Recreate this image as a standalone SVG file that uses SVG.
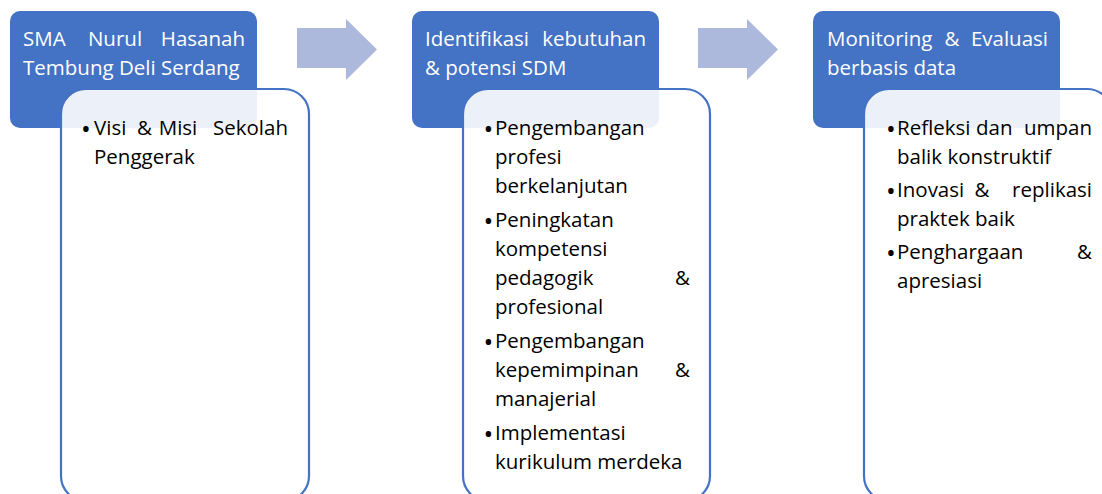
<svg xmlns="http://www.w3.org/2000/svg" width="1102" height="494" viewBox="0 0 1102 494">
  <style>
    .hdr { fill: #4472C4; }
    .box { fill: #FFFFFF; fill-opacity: 0.9; stroke: #4472C4; stroke-width: 2.2; }
    .arrow { fill: #ADB9DC; }
    text { font-family: "Open Sans", "Noto Sans", sans-serif; font-size: 20.5px; }
    .ht { fill: #FFFFFF; }
    .bt { fill: #000000; }
    .bu { fill: #000000; font-size: 26px; text-anchor: middle; }
  </style>

  <g id="connectors">
    <polygon class="arrow" points="297,28 346,28 346,19 377,49.5 346,80 346,68 297,68"/>
    <polygon class="arrow" points="698,28 747,28 747,19 778,49.5 747,80 747,68 698,68"/>
  </g>

  <g id="step1">
    <rect class="hdr" x="10" y="11" width="247" height="117" rx="10"/>
    <text class="ht" x="23" y="46">SMA</text>
    <text class="ht" x="115" y="46" text-anchor="middle">Nurul</text>
    <text class="ht" x="245" y="46" text-anchor="end">Hasanah</text>
    <text class="ht" x="23" y="75">Tembung Deli Serdang</text>
  </g>
  <g id="detail1">
    <rect class="box" x="61" y="89" width="248" height="412" rx="25"/>
    <text class="bu" x="86" y="138">•</text>
    <text class="bt" x="94" y="135">Visi</text>
    <text class="bt" x="144.5" y="135" text-anchor="middle">&amp;</text>
    <text class="bt" x="178" y="135" text-anchor="middle">Misi</text>
    <text class="bt" x="288" y="135" text-anchor="end">Sekolah</text>
    <text class="bt" x="94" y="164">Penggerak</text>
  </g>

  <g id="step2">
    <rect class="hdr" x="412" y="11" width="247" height="117" rx="10"/>
    <text class="ht" x="425" y="46">Identifikasi</text>
    <text class="ht" x="646" y="46" text-anchor="end">kebutuhan</text>
    <text class="ht" x="425" y="75">&amp; potensi SDM</text>
  </g>
  <g id="detail2">
    <rect class="box" x="463" y="89" width="247" height="412" rx="25"/>
    <text class="bu" x="488.5" y="138">•</text>
    <text class="bt" x="495" y="135">Pengembangan</text>
    <text class="bt" x="495" y="164">profesi</text>
    <text class="bt" x="495" y="193">berkelanjutan</text>
    <text class="bu" x="488.5" y="229.5">•</text>
    <text class="bt" x="495" y="226.5">Peningkatan</text>
    <text class="bt" x="495" y="255.5">kompetensi</text>
    <text class="bt" x="495" y="285">pedagogik</text>
    <text class="bt" x="690" y="285" text-anchor="end">&amp;</text>
    <text class="bt" x="495" y="314">profesional</text>
    <text class="bu" x="488.5" y="350.5">•</text>
    <text class="bt" x="495" y="347.5">Pengembangan</text>
    <text class="bt" x="495" y="377">kepemimpinan</text>
    <text class="bt" x="690" y="377" text-anchor="end">&amp;</text>
    <text class="bt" x="495" y="406">manajerial</text>
    <text class="bu" x="488.5" y="442.5">•</text>
    <text class="bt" x="495" y="439.5">Implementasi</text>
    <text class="bt" x="495" y="468.5">kurikulum merdeka</text>
  </g>

  <g id="step3">
    <rect class="hdr" x="813" y="11" width="247" height="117" rx="10"/>
    <text class="ht" x="827" y="46">Monitoring</text>
    <text class="ht" x="952" y="46" text-anchor="middle">&amp;</text>
    <text class="ht" x="1048" y="46" text-anchor="end">Evaluasi</text>
    <text class="ht" x="827" y="75">berbasis data</text>
  </g>
  <g id="detail3">
    <rect class="box" x="864" y="89" width="248" height="412" rx="25"/>
    <text class="bu" x="891" y="138">•</text>
    <text class="bt" x="897" y="135">Refleksi</text>
    <text class="bt" x="976" y="135">dan</text>
    <text class="bt" x="1092" y="135" text-anchor="end">umpan</text>
    <text class="bt" x="897" y="164">balik konstruktif</text>
    <text class="bu" x="891" y="200">•</text>
    <text class="bt" x="897" y="197">Inovasi</text>
    <text class="bt" x="982" y="197" text-anchor="middle">&amp;</text>
    <text class="bt" x="1092" y="197" text-anchor="end">replikasi</text>
    <text class="bt" x="897" y="226">praktek baik</text>
    <text class="bu" x="891" y="262">•</text>
    <text class="bt" x="897" y="259">Penghargaan</text>
    <text class="bt" x="1092" y="259" text-anchor="end">&amp;</text>
    <text class="bt" x="897" y="288">apresiasi</text>
  </g>
</svg>
